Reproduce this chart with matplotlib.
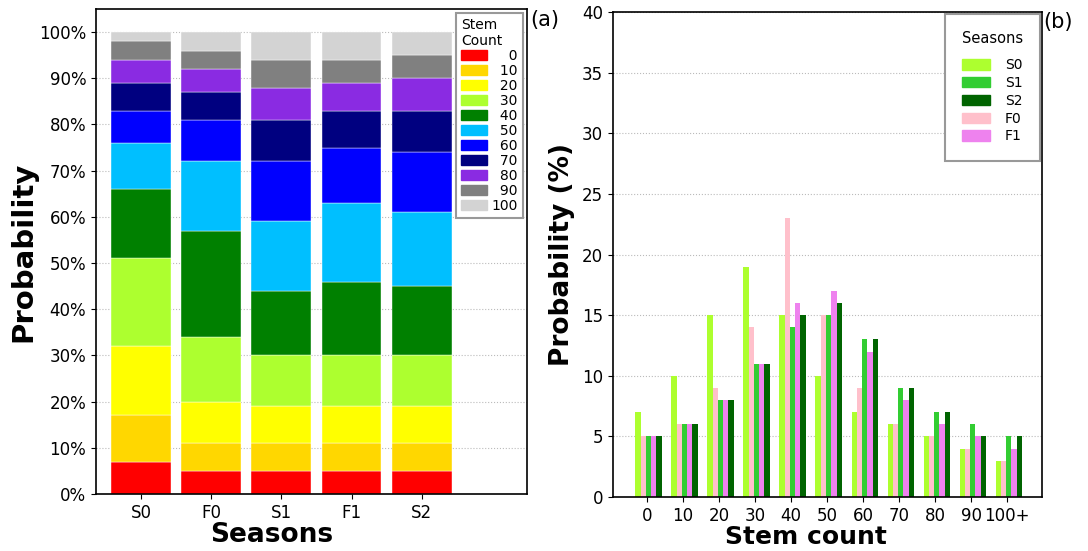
import numpy as np
import matplotlib
matplotlib.use('Agg')
from matplotlib import pyplot as plt
from matplotlib.patches import Patch

plt.rcParams['font.family'] = ['DejaVu Sans']

# ---- panel (a): stacked probability per season ----
seasons_a = ['S0', 'F0', 'S1', 'F1', 'S2']
stem_classes = ['0', '10', '20', '30', '40', '50', '60', '70', '80', '90', '100']
stack_colors = ['red', 'gold', 'yellow', 'greenyellow', 'green', 'deepskyblue',
                'blue', 'navy', 'blueviolet', 'gray', 'lightgray']
# percentage of each stem count class, one list per season (S0, F0, S1, F1, S2)
share_S0 = [7, 10, 15, 19, 15, 10, 7, 6, 5, 4, 2]
share_F0 = [5, 6, 9, 14, 23, 15, 9, 6, 5, 4, 4]
share_S1 = [5, 6, 8, 11, 14, 15, 13, 9, 7, 6, 6]
share_F1 = [5, 6, 8, 11, 16, 17, 12, 8, 6, 5, 6]
share_S2 = [5, 6, 8, 11, 15, 16, 13, 9, 7, 5, 5]

# ---- panel (b): grouped probability per stem count ----
stem_ticks = ['0', '10', '20', '30', '40', '50', '60', '70', '80', '90', '100+']
prob_S0 = [7, 10, 15, 19, 15, 10, 7, 6, 5, 4, 3]
prob_F0 = [5, 6, 9, 14, 23, 15, 9, 6, 5, 4, 3]
prob_S1 = [5, 6, 8, 11, 14, 15, 13, 9, 7, 6, 5]
prob_F1 = [5, 6, 8, 11, 16, 17, 12, 8, 6, 5, 4]
prob_S2 = [5, 6, 8, 11, 15, 16, 13, 9, 7, 5, 5]

fig = plt.figure(figsize=(10.88, 5.51), dpi=100)
ax1 = fig.add_axes([0.0882, 0.1034, 0.3962, 0.8803])
ax2 = fig.add_axes([0.5634, 0.098, 0.3941, 0.880])

# panel (a)
shares = np.array([share_S0, share_F0, share_S1, share_F1, share_S2])
x1 = np.arange(len(seasons_a))
bottom = np.zeros(len(seasons_a))
for k, lab in enumerate(stem_classes):
    ax1.bar(x1, shares[:, k], width=0.85, bottom=bottom, color=stack_colors[k],
            edgecolor='white', linewidth=0.3, label=lab, zorder=2)
    bottom += shares[:, k]

ax1.set_xlim(-0.64, 5.5)
ax1.set_ylim(0, 105)
ax1.set_yticks(np.arange(0, 101, 10))
ax1.set_yticklabels([f'{v}%' for v in range(0, 101, 10)], fontsize=12)
ax1.set_xticks(x1)
ax1.set_xticklabels(seasons_a, fontsize=12)
ax1.grid(True, axis='y', linestyle=':', color='#bbbbbb', linewidth=0.8)
ax1.set_axisbelow(True)
ax1.set_ylabel('Probability', fontsize=21, fontweight='bold', labelpad=1)
ax1.set_xlabel('Seasons', fontsize=19, fontweight='bold', labelpad=0, x=0.408)

fs = '\u2007'
handles_a = [Patch(color=c) for c in stack_colors]
labels_a = [fs * (3 - len(s)) + s for s in stem_classes]
leg1 = ax1.legend(handles_a, labels_a, title='Stem\nCount', loc='upper right',
                  bbox_to_anchor=(1.0, 1.0), borderaxespad=0.3,
                  fontsize=10, title_fontsize=10,
                  alignment='left', labelspacing=0.07, handlelength=1.9,
                  handleheight=0.75, handletextpad=0.3, borderpad=0.35,
                  fancybox=False, framealpha=1)
leg1.get_frame().set_edgecolor('#999999')
leg1.get_frame().set_linewidth(1.5)

# panel (b)
x2 = np.arange(len(stem_ticks))
bw = 0.146
series_b = [('S0', prob_S0, 'greenyellow'), ('F0', prob_F0, 'pink'),
            ('S1', prob_S1, 'limegreen'), ('F1', prob_F1, 'violet'),
            ('S2', prob_S2, 'darkgreen')]
for i, (name, vals, col) in enumerate(series_b):
    ax2.bar(x2 - 0.32 + i * bw + bw / 2, vals, width=bw, color=col, label=name, zorder=2)

ax2.set_xlim(-0.94, 10.96)
ax2.set_ylim(0, 40)
ax2.set_yticks(np.arange(0, 41, 5))
ax2.tick_params(axis='y', labelsize=12)
ax2.set_xticks(x2)
ax2.set_xticklabels(stem_ticks, fontsize=12)
ax2.grid(True, axis='y', linestyle=':', color='#bbbbbb', linewidth=0.8)
ax2.set_axisbelow(True)
ax2.set_ylabel('Probability (%)', fontsize=19, fontweight='bold', labelpad=5)
ax2.set_xlabel('Stem count', fontsize=18, fontweight='bold', labelpad=0, x=0.45)

order = ['S0', 'S1', 'S2', 'F0', 'F1']
colmap = {n: c for n, _, c in series_b}
handles_b = [Patch(color=colmap[n]) for n in order]
leg2 = ax2.legend(handles_b, order, title='Seasons', loc='upper right',
                  bbox_to_anchor=(1.0, 1.0), fontsize=10, title_fontsize=10.5,
                  labelspacing=0.27, handlelength=1.95, handleheight=0.75,
                  handletextpad=1.1, borderpad=1.25, borderaxespad=0.1,
                  fancybox=False, framealpha=1)
leg2._legend_box.sep = 9
leg2.get_frame().set_edgecolor('#999999')
leg2.get_frame().set_linewidth(1.5)

for ax in (ax1, ax2):
    for sp in ax.spines.values():
        sp.set_linewidth(1.2)

fig.text(0.4875, 0.963, '(a)', fontsize=15, ha='left', va='center')
fig.text(0.959, 0.960, '(b)', fontsize=15, ha='left', va='center')

plt.savefig('out.png', dpi=100)
